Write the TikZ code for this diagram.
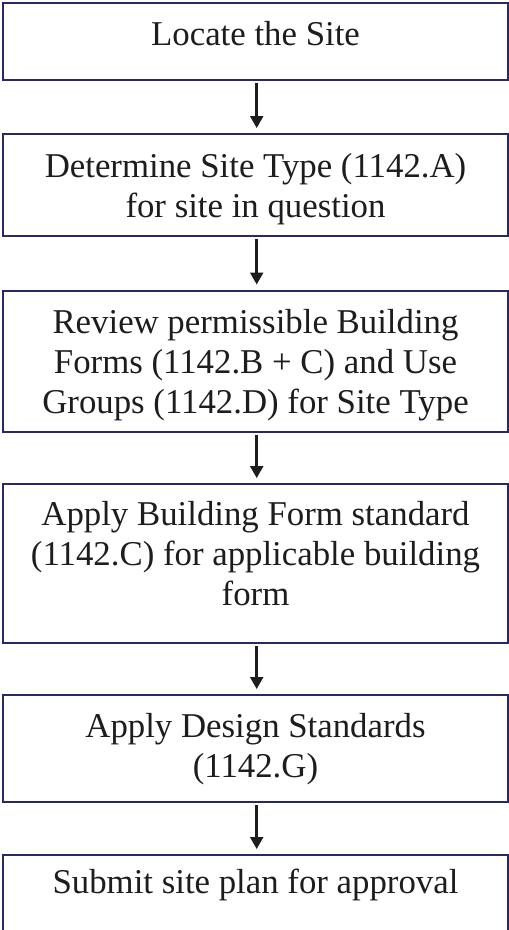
\documentclass[tikz,border=0pt]{standalone}
\usepackage{fontspec}
\setmainfont{Liberation Serif}
\usetikzlibrary{arrows.meta}
\definecolor{boxline}{RGB}{40,40,100}
\definecolor{ink}{RGB}{30,28,30}
\tikzset{
  stepbox/.style={draw=boxline, line width=2pt, fill=white, inner sep=0pt, outer sep=0pt,
    minimum width=504.5pt, anchor=north},
  steptext/.style={anchor=north, inner sep=0pt, outer sep=0pt, align=center, text=ink,
    font=\fontsize{34.8}{40}\selectfont},
  flow/.style={line width=2.5pt, draw=ink, -{Triangle[length=12pt,width=13pt]},
    shorten <=3pt, shorten >=6pt}
}
\newcommand{\firstline}{\rule{0pt}{28pt}}
\begin{document}
\begin{tikzpicture}[x=1pt,y=-1pt]
\useasboundingbox (0,0) rectangle (509,930);
\begin{scope}
\clip (0,0) rectangle (509,930);
\node[stepbox, minimum height=77pt]  (b1) at (255.25,3) {};
\node[stepbox, minimum height=102pt] (b2) at (255.25,134) {};
\node[stepbox, minimum height=141pt] (b3) at (255.25,290.5) {};
\node[stepbox, minimum height=159pt] (b4) at (255.25,484) {};
\node[stepbox, minimum height=107pt] (b5) at (255.25,695) {};
\node[stepbox, minimum height=110pt] (b6) at (255.25,855) {};

\node[steptext] (t1) at (255.5,17) {\firstline Locate the Site};
\node[steptext] (t2) at (255.5,149) {\firstline Determine Site Type (1142.A)\\for site in question};
\node[steptext] (t3) at (255.5,305) {\firstline Review permissible Building\\Forms (1142.B + C) and Use\\Groups (1142.D) for Site Type};
\node[steptext] (t4) at (255.5,497) {\firstline Apply Building Form standard\\(1142.C) for applicable building\\form};
\node[steptext] (t5) at (255.5,709) {\firstline Apply Design Standards\\(1142.G)};
\node[steptext] (t6) at (255.5,865) {\firstline Submit site plan for approval};

\draw[flow] (b1.south -| 256.7,0) -- (b2.north -| 256.7,0);
\draw[flow] (b2.south -| 256.7,0) -- (b3.north -| 256.7,0);
\draw[flow] (b3.south -| 256.7,0) -- (b4.north -| 256.7,0);
\draw[flow] (b4.south -| 256.7,0) -- (b5.north -| 256.7,0);
\draw[flow] (b5.south -| 256.7,0) -- (b6.north -| 256.7,0);
\end{scope}
\end{tikzpicture}
\end{document}
